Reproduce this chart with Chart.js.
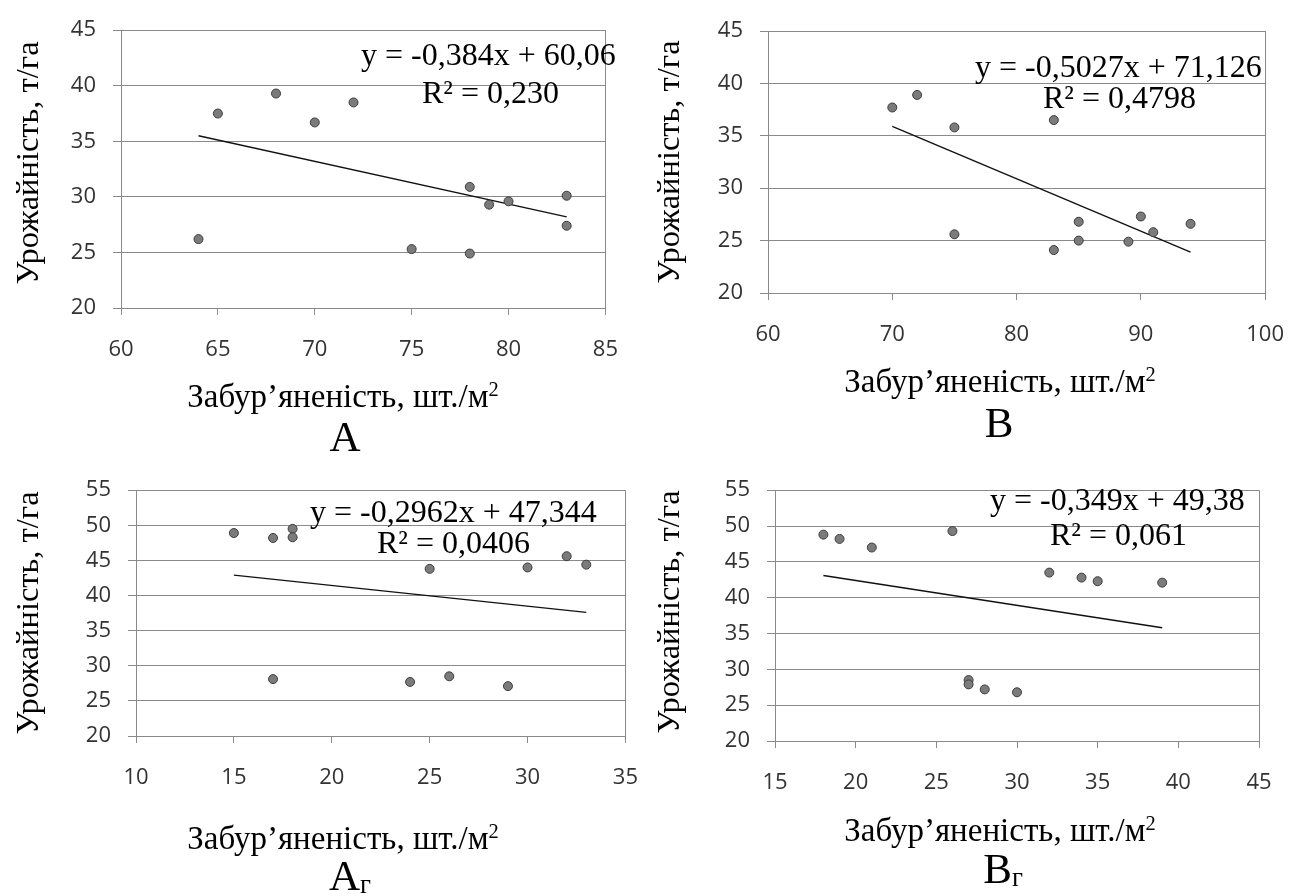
<!DOCTYPE html>
<html>
<head>
<meta charset="utf-8">
<script src="https://cdn.jsdelivr.net/npm/chart.js@4.4.1/dist/chart.umd.min.js"></script>
<style>
    body { margin: 0; background: #fff; }
    #page { position: relative; width: 1306px; height: 896px; overflow: hidden; background: #fff; }
    canvas { position: absolute; }
    .t { position: absolute; font-family: "Liberation Serif", "Times New Roman", serif; color: #000; white-space: nowrap; line-height: 1; }
    .xt { font-size: 33px; transform: translateX(-50%); }
    .xt sup { font-size: 0.62em; vertical-align: 0.55em; line-height: 0; }
    .yt { font-size: 32.5px; transform: translate(-50%, -50%) rotate(-90deg); }
    .eq { font-size: 32px; }
    .lt { font-size: 43px; transform: translateX(-50%); }
    .lt sub { font-size: 0.62em; vertical-align: -0.12em; line-height: 0; }
</style>
</head>
<body>
<div id="page">
    <canvas id="chartA" width="640" height="440" style="left:0px;top:0px;"></canvas>
    <canvas id="chartB" width="666" height="440" style="left:640px;top:0px;"></canvas>
    <canvas id="chartAg" width="660" height="436" style="left:0px;top:460px;"></canvas>
    <canvas id="chartBg" width="666" height="436" style="left:640px;top:460px;"></canvas>

    <div class="t yt" style="left:27px;top:163px;">Урожайність, т/га</div>
    <div class="t yt" style="left:668px;top:162px;">Урожайність, т/га</div>
    <div class="t yt" style="left:27px;top:613px;">Урожайність, т/га</div>
    <div class="t yt" style="left:668px;top:612px;">Урожайність, т/га</div>

    <div class="t xt" style="left:343px;top:380px;">Забур’яненість, шт./м<sup>2</sup></div>
    <div class="t xt" style="left:1000px;top:365px;">Забур’яненість, шт./м<sup>2</sup></div>
    <div class="t xt" style="left:343px;top:822px;">Забур’яненість, шт./м<sup>2</sup></div>
    <div class="t xt" style="left:1000px;top:814px;">Забур’яненість, шт./м<sup>2</sup></div>

    <div class="t eq" style="left:361px;top:38px;">y = -0,384x + 60,06</div>
    <div class="t eq" style="left:422px;top:76px;">R² = 0,230</div>
    <div class="t eq" style="left:975px;top:50px;">y = -0,5027x + 71,126</div>
    <div class="t eq" style="left:1043px;top:81px;">R² = 0,4798</div>
    <div class="t eq" style="left:310px;top:495px;">y = -0,2962x + 47,344</div>
    <div class="t eq" style="left:377px;top:526px;">R² = 0,0406</div>
    <div class="t eq" style="left:990px;top:483px;">y = -0,349x + 49,38</div>
    <div class="t eq" style="left:1050px;top:518px;">R² = 0,061</div>

    <div class="t lt" style="left:345px;top:415px;">A</div>
    <div class="t lt" style="left:999px;top:401px;">B</div>
    <div class="t lt" style="left:350px;top:854px;">A<sub>г</sub></div>
    <div class="t lt" style="left:1003px;top:847px;">B<sub>г</sub></div>
</div>

<script>
// weed infestation (x) and yield (y) per panel
const weedsA = [64, 65, 68, 70, 72, 75, 78, 78, 79, 80, 83, 83];
const yieldA = [26.2, 37.5, 39.3, 36.7, 38.5, 25.3, 30.9, 24.9, 29.3, 29.6, 30.1, 27.4];
const trendXA = [64, 83];
const trendYA = [35.5, 28.2];
const xTicksA = [60, 65, 70, 75, 80, 85];
const yTicksA = [20, 25, 30, 35, 40, 45];

const weedsB = [70, 72, 75, 75, 83, 83, 85, 85, 89, 90, 91, 94];
const yieldB = [37.7, 38.9, 35.8, 25.6, 36.5, 24.1, 26.8, 25.0, 24.9, 27.3, 25.8, 26.6];
const trendXB = [70, 94];
const trendYB = [35.9, 23.9];
const xTicksB = [60, 70, 80, 90, 100];
const yTicksB = [20, 25, 30, 35, 40, 45];

const weedsAg = [15, 17, 17, 18, 18, 24, 25, 26, 29, 30, 32, 33];
const yieldAg = [48.9, 48.2, 28.1, 49.5, 48.3, 27.7, 43.8, 28.5, 27.1, 44.0, 45.6, 44.4];
const trendXAg = [15, 33];
const trendYAg = [42.9, 37.6];
const xTicksAg = [10, 15, 20, 25, 30, 35];
const yTicksAg = [20, 25, 30, 35, 40, 45, 50, 55];

const weedsBg = [18, 19, 21, 26, 27, 27, 28, 30, 32, 34, 35, 39];
const yieldBg = [48.8, 48.2, 47.0, 49.3, 28.5, 27.9, 27.2, 26.8, 43.5, 42.8, 42.3, 42.1];
const trendXBg = [18, 39];
const trendYBg = [43.1, 35.8];
const xTicksBg = [15, 20, 25, 30, 35, 40, 45];
const yTicksBg = [20, 25, 30, 35, 40, 45, 50, 55];

const gridColor = '#8a8a8a';

function toPoints(xs, ys) {
    return xs.map((x, i) => ({ x, y: ys[i] }));
}

function renderScatterPanel(canvasId, area, xs, ys, trendXs, trendYs, xTicks, yTicks) {
    const canvasElement = document.getElementById(canvasId);
    const lastX = xTicks.length - 1;

    return new Chart(canvasElement, {
        type: 'scatter',
        data: {
            datasets: [
                {
                    data: toPoints(xs, ys),
                    pointRadius: 4.5,
                    pointBackgroundColor: '#7b7b7b',
                    pointBorderColor: '#3c3c3c',
                    pointBorderWidth: 1,
                    order: 0
                },
                {
                    data: toPoints(trendXs, trendYs),
                    showLine: true,
                    borderColor: '#111',
                    borderWidth: 1.4,
                    pointRadius: 0,
                    order: 1
                }
            ]
        },
        options: {
            responsive: false,
            animation: false,
            events: [],
            layout: {
                padding: {
                    left: 0,
                    top: area.top,
                    right: canvasElement.width - area.right,
                    bottom: 0
                }
            },
            plugins: {
                legend: { display: false },
                tooltip: { enabled: false }
            },
            scales: {
                x: {
                    type: 'linear',
                    min: xTicks[0],
                    max: xTicks[lastX],
                    afterBuildTicks: (scale) => {
                        scale.ticks = xTicks.map((value) => ({ value }));
                    },
                    afterFit: (scale) => {
                        scale.height = canvasElement.height - area.bottom;
                    },
                    border: { display: true, color: gridColor, width: 1 },
                    grid: {
                        color: (ctx) => (ctx.index === lastX ? gridColor : 'rgba(0,0,0,0)'),
                        tickColor: gridColor,
                        tickLength: 7,
                        lineWidth: 1
                    },
                    ticks: {
                        padding: 22,
                        color: '#333',
                        font: { family: 'Open Sans', size: 22 }
                    }
                },
                y: {
                    type: 'linear',
                    min: yTicks[0],
                    max: yTicks[yTicks.length - 1],
                    afterBuildTicks: (scale) => {
                        scale.ticks = yTicks.map((value) => ({ value }));
                    },
                    afterFit: (scale) => {
                        scale.width = area.left;
                    },
                    border: { display: true, color: gridColor, width: 1 },
                    grid: {
                        color: gridColor,
                        tickColor: gridColor,
                        tickLength: 8,
                        lineWidth: 1
                    },
                    ticks: {
                        padding: 17,
                        color: '#333',
                        font: { family: 'Open Sans', size: 22 }
                    }
                }
            }
        }
    });
}

renderScatterPanel('chartA', { left: 121, top: 17, right: 620, bottom: 308 },
    weedsA, yieldA, trendXA, trendYA, xTicksA, yTicksA);
renderScatterPanel('chartB', { left: 128, top: 31, right: 632, bottom: 293 },
    weedsB, yieldB, trendXB, trendYB, xTicksB, yTicksB);
renderScatterPanel('chartAg', { left: 136, top: 30, right: 628, bottom: 276 },
    weedsAg, yieldAg, trendXAg, trendYAg, xTicksAg, yTicksAg);
renderScatterPanel('chartBg', { left: 135, top: 23, right: 619, bottom: 281 },
    weedsBg, yieldBg, trendXBg, trendYBg, xTicksBg, yTicksBg);
</script>
</body>
</html>
